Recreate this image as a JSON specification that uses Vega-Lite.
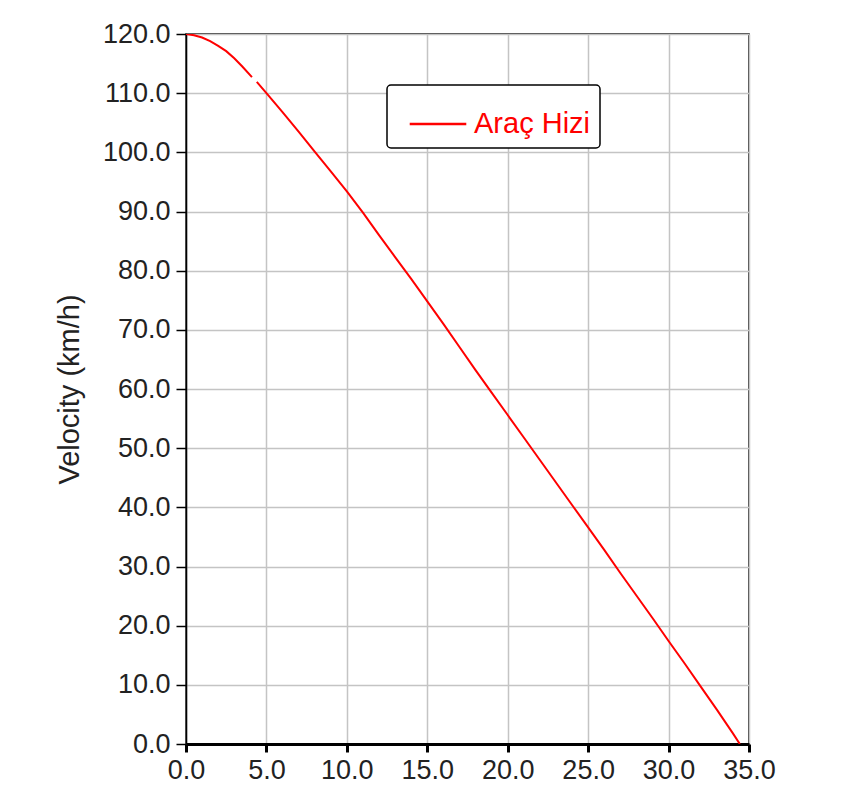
{
  "$schema": "https://vega.github.io/schema/vega-lite/v6.json",
  "width": 563,
  "height": 710,
  "autosize": {"type": "none"},
  "padding": {"left": 186, "top": 34, "right": 92, "bottom": 52},
  "background": "white",
  "config": {
    "view": {"stroke": "black", "strokeWidth": 1.5},
    "font": "Liberation Sans"
  },
  "data": {
    "values": [
      {"t": 0, "v": 120, "s": "Araç Hizi"},
      {"t": 0.5, "v": 119.8, "s": "Araç Hizi"},
      {"t": 1, "v": 119.4, "s": "Araç Hizi"},
      {"t": 1.5, "v": 118.8, "s": "Araç Hizi"},
      {"t": 2, "v": 118.0, "s": "Araç Hizi"},
      {"t": 2.5, "v": 117.1, "s": "Araç Hizi"},
      {"t": 3, "v": 115.9, "s": "Araç Hizi"},
      {"t": 3.5, "v": 114.5, "s": "Araç Hizi"},
      {"t": 4.1, "v": 112.7, "s": "Araç Hizi"},
      {"t": 4.25, "v": null, "s": "Araç Hizi"},
      {"t": 4.4, "v": 111.9, "s": "Araç Hizi"},
      {"t": 5, "v": 110.0, "s": "Araç Hizi"},
      {"t": 6, "v": 106.8, "s": "Araç Hizi"},
      {"t": 7, "v": 103.5, "s": "Araç Hizi"},
      {"t": 8, "v": 100.1, "s": "Araç Hizi"},
      {"t": 9, "v": 96.8, "s": "Araç Hizi"},
      {"t": 10, "v": 93.4, "s": "Araç Hizi"},
      {"t": 11, "v": 89.8, "s": "Araç Hizi"},
      {"t": 12, "v": 86.0, "s": "Araç Hizi"},
      {"t": 13, "v": 82.3, "s": "Araç Hizi"},
      {"t": 14, "v": 78.6, "s": "Araç Hizi"},
      {"t": 15, "v": 74.8, "s": "Araç Hizi"},
      {"t": 16, "v": 71.0, "s": "Araç Hizi"},
      {"t": 17, "v": 67.1, "s": "Araç Hizi"},
      {"t": 18, "v": 63.2, "s": "Araç Hizi"},
      {"t": 19, "v": 59.4, "s": "Araç Hizi"},
      {"t": 20, "v": 55.6, "s": "Araç Hizi"},
      {"t": 21, "v": 51.8, "s": "Araç Hizi"},
      {"t": 22, "v": 48.0, "s": "Araç Hizi"},
      {"t": 23, "v": 44.2, "s": "Araç Hizi"},
      {"t": 24, "v": 40.4, "s": "Araç Hizi"},
      {"t": 25, "v": 36.6, "s": "Araç Hizi"},
      {"t": 26, "v": 32.8, "s": "Araç Hizi"},
      {"t": 27, "v": 28.9, "s": "Araç Hizi"},
      {"t": 28, "v": 25.1, "s": "Araç Hizi"},
      {"t": 29, "v": 21.3, "s": "Araç Hizi"},
      {"t": 30, "v": 17.4, "s": "Araç Hizi"},
      {"t": 31, "v": 13.6, "s": "Araç Hizi"},
      {"t": 32, "v": 9.7, "s": "Araç Hizi"},
      {"t": 33, "v": 5.8, "s": "Araç Hizi"},
      {"t": 34, "v": 1.8, "s": "Araç Hizi"},
      {"t": 34.43, "v": 0, "s": "Araç Hizi"}
    ]
  },
  "mark": {"type": "line", "strokeWidth": 2, "clip": true},
  "encoding": {
    "x": {
      "field": "t",
      "type": "quantitative",
      "scale": {"domain": [0, 35], "nice": false, "zero": false},
      "axis": {
        "title": null,
        "values": [0, 5, 10, 15, 20, 25, 30, 35],
        "format": ".1f",
        "labelFontSize": 27,
        "labelColor": "#222222",
        "labelPadding": 5,
        "labelFlush": false,
        "domainColor": "black",
        "domainWidth": 3,
        "tickColor": "black",
        "tickWidth": 3,
        "tickSize": 8,
        "gridColor": "#c4c4c4",
        "gridWidth": 1.5
      }
    },
    "y": {
      "field": "v",
      "type": "quantitative",
      "scale": {"domain": [0, 120], "nice": false},
      "axis": {
        "title": "Velocity (km/h)",
        "titleFontSize": 29,
        "titleFontWeight": "normal",
        "titleColor": "#222222",
        "titlePadding": 18,
        "values": [0, 10, 20, 30, 40, 50, 60, 70, 80, 90, 100, 110, 120],
        "format": ".1f",
        "labelFontSize": 27,
        "labelColor": "#222222",
        "labelPadding": 6,
        "labelFlush": false,
        "domainColor": "black",
        "domainWidth": 1.5,
        "tickColor": "black",
        "tickWidth": 1.5,
        "tickSize": 10,
        "gridColor": "#c4c4c4",
        "gridWidth": 1.5
      }
    },
    "color": {
      "field": "s",
      "type": "nominal",
      "scale": {"range": ["#ff0000"]},
      "legend": {
        "title": null,
        "orient": "none",
        "legendX": 201,
        "legendY": 51,
        "symbolType": "stroke",
        "symbolSize": 3200,
        "symbolStrokeWidth": 2.5,
        "symbolOffset": 12,
        "labelFontSize": 29,
        "labelColor": "#ff0000",
        "labelOffset": 6,
        "padding": 9,
        "strokeColor": "black",
        "cornerRadius": 4,
        "fillColor": "white",
        "encode": {"legend": {"update": {"strokeWidth": {"value": 1.5}}}}
      }
    }
  }
}
